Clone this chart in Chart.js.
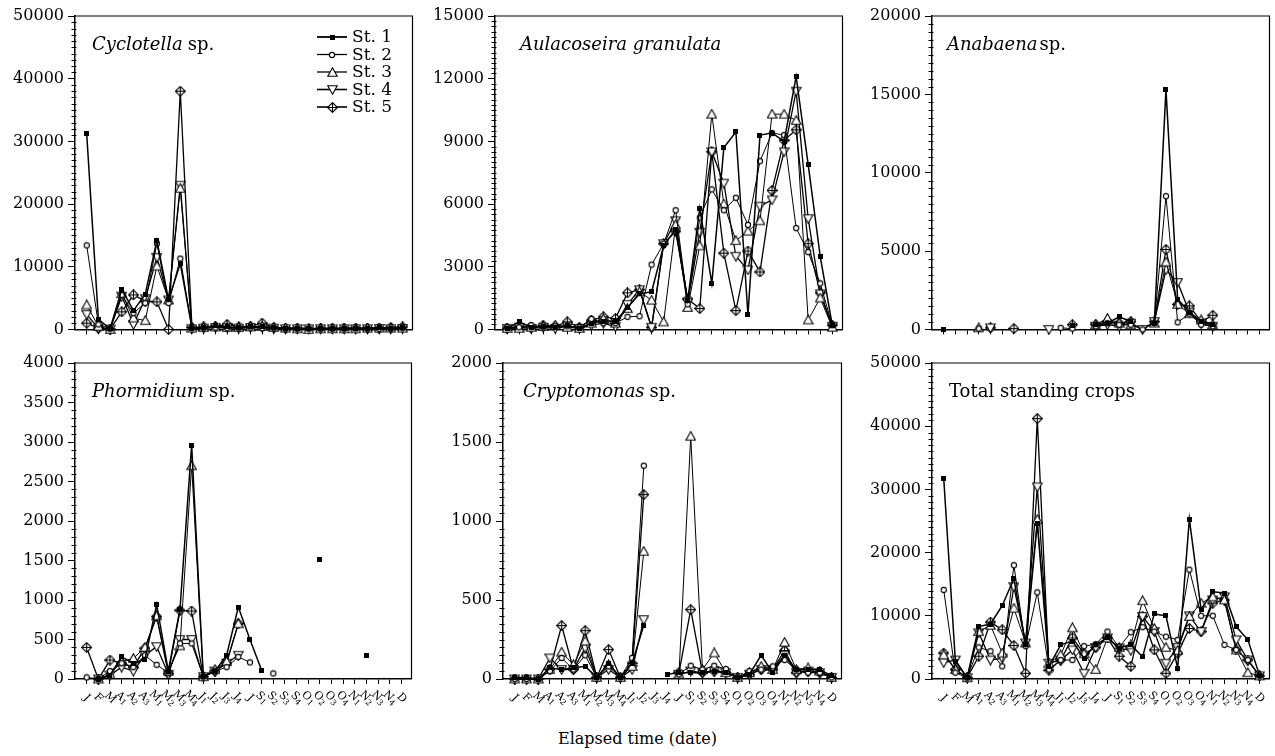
<!DOCTYPE html>
<html><head><meta charset="utf-8">
<script src="https://cdn.jsdelivr.net/npm/chart.js@4.4.1/dist/chart.umd.min.js"></script>
<style>
html,body{margin:0;padding:0;background:#fff;}
body{width:1275px;height:756px;position:relative;overflow:hidden;}
canvas{position:absolute;}
#xt{position:absolute;left:0;width:1275px;top:729px;line-height:20px;text-align:center;font:16px "DejaVu Serif";color:#000;}
</style></head><body>
<div id="xt">Elapsed time (date)</div>
<script>
const dateLabels = ['J','F','M','A1','A2','A3','M1','M2','M3','M4','J1','J2','J3','J4','J','S1','S2','S3','S4','O1','O2','O3','O4','N1','N2','N3','N4','D'];
const stationNames = ['St. 1','St. 2','St. 3','St. 4','St. 5'];

// Cyclotella sp.
const cycSt1 = [31200,1600,100,6400,3000,5600,14200,4700,10500,200,300,600,400,300,400,400,300,200,200,100,100,100,150,200,200,300,200,300];
const cycSt2 = [13400,800,100,5500,2600,4200,13700,4200,11300,200,200,300,200,200,300,200,200,100,100,100,100,100,100,150,100,100,100,200];
const cycSt3 = [3900,500,0,5700,1800,1400,10100,4700,22500,200,300,400,300,300,400,500,300,200,100,0,100,100,100,100,200,200,200,200];
const cycSt4 = [2400,200,50,5300,800,4900,11500,4700,23000,100,200,300,300,200,300,300,200,100,100,100,100,100,100,100,100,150,100,150];
const cycSt5 = [1000,200,50,2800,5500,4500,4400,0,38000,300,400,500,800,400,500,1000,300,200,200,100,200,200,200,200,200,200,300,400];

// Aulacoseira granulata
const aulSt1 = [50,360,100,150,100,200,50,300,400,400,1040,1700,1800,4000,4800,1400,5800,2200,8700,9450,700,9300,9400,9000,12100,7900,3500,200];
const aulSt2 = [100,100,200,100,150,150,100,500,300,300,600,630,3100,4100,5700,1200,5350,6700,5700,6300,5000,8050,9400,9300,4850,3700,2200,200];
const aulSt3 = [50,50,100,150,200,100,50,300,500,300,1000,1800,1400,360,5000,1050,4000,10300,6000,4250,4700,5200,10300,10300,10000,450,1500,100];
const aulSt4 = [50,100,50,100,50,150,50,200,300,130,1200,1900,100,4100,5200,1300,4650,8500,7000,3500,2850,5900,6200,8500,11400,5300,1700,150];
const aulSt5 = [50,150,100,200,150,360,100,440,600,520,1750,1900,100,4100,4700,1450,1000,8500,3650,900,3750,2750,6650,9050,9550,4100,1750,200];

// Anabaena sp.
const anaSt1 = [0,null,null,null,null,null,null,null,null,null,null,250,null,300,400,800,500,null,400,15300,1900,1100,500,300,null,null,null,null];
const anaSt2 = [null,null,null,50,null,null,null,null,null,null,100,50,null,200,400,300,300,0,400,8500,450,1000,300,200,null,null,null,null];
const anaSt3 = [null,null,null,100,null,null,null,null,null,null,null,null,null,300,700,400,300,null,400,4300,1600,1000,600,300,null,null,null,null];
const anaSt4 = [null,null,null,null,100,null,null,null,null,0,null,null,null,200,300,200,400,0,500,3800,3000,1100,400,200,null,null,null,null];
const anaSt5 = [null,null,null,null,100,null,50,null,null,null,null,300,null,300,500,400,500,null,500,5100,1600,1500,500,900,null,null,null,null];

// Phormidium sp.
const phoSt1 = [null,0,50,280,200,250,940,100,880,2960,30,100,300,910,500,110,null,null,null,null,1510,null,null,null,300,null,null,null];
const phoSt2 = [20,0,100,200,150,300,180,80,450,450,30,100,150,280,210,null,70,null,null,null,null,null,null,null,null,null,null,null];
const phoSt3 = [null,0,60,220,260,400,800,100,420,2700,30,120,220,700,null,null,null,null,null,null,null,null,null,null,null,null,null,null];
const phoSt4 = [null,0,50,150,100,300,410,60,500,500,30,100,200,300,null,null,null,null,null,null,null,null,null,null,null,null,null,null];
const phoSt5 = [400,0,240,200,150,390,790,70,870,860,30,100,200,700,null,null,null,null,null,null,null,null,null,null,null,null,null,null];

// Cryptomonas sp.
const crySt1 = [10,10,0,70,60,70,80,10,100,10,100,340,null,30,40,40,40,50,40,10,30,150,40,150,60,60,60,20];
const crySt2 = [0,0,0,50,133,60,150,10,80,10,133,1350,null,null,30,84,60,84,63,10,50,60,80,120,60,40,40,10];
const crySt3 = [0,0,0,60,170,90,240,10,90,10,80,808,null,null,30,1536,60,165,40,10,40,80,60,232,60,70,50,10];
const crySt4 = [0,0,0,133,60,60,196,10,60,10,60,376,null,null,30,50,40,50,40,10,30,60,60,150,40,50,40,10];
const crySt5 = [0,0,0,60,338,60,306,10,186,10,100,1167,null,null,40,439,40,50,40,10,30,60,60,180,40,50,40,10];

// Total standing crops
const totSt1 = [31800,2800,200,8300,8700,11600,15900,5500,24600,2000,5400,6000,3300,5500,6500,4900,5400,3500,10300,10000,1700,25300,11000,13800,13600,8300,6200,600];
const totSt2 = [14100,1000,200,5000,4400,2000,18000,5200,13700,1500,3000,3000,5200,5500,7500,5000,7400,8200,7500,6700,6200,17300,10000,10000,5400,4600,3000,500];
const totSt3 = [3800,1500,200,7500,8500,4100,11200,5700,25200,2500,3800,8100,4000,1500,6500,5000,5400,12400,8000,5000,4500,9900,12000,13000,12500,4600,1000,500];
const totSt4 = [2600,3000,200,7300,3000,3300,14600,5700,30400,2500,3000,4600,900,5000,6500,4900,4500,9900,7500,2500,5000,10000,7500,12500,13000,6200,3000,500];
const totSt5 = [4100,1500,200,3600,9000,7800,5300,900,41200,1400,3000,6500,4000,5000,6500,3600,2000,9900,4600,900,4100,8000,7500,12000,12500,4600,3000,500];

const FONT = '"DejaVu Serif", "Liberation Serif", serif';

function mk(w,h,draw){const c=document.createElement('canvas');c.width=w;c.height=h;const g=c.getContext('2d');draw(g);return c;}
const markers = [
  mk(5,5,g=>{g.fillStyle='#000';g.fillRect(0,0,5,5);}),
  mk(8,8,g=>{g.fillStyle='#fff';g.strokeStyle='#000';g.lineWidth=1.1;g.beginPath();g.arc(4,4,2.6,0,Math.PI*2);g.fill();g.stroke();}),
  mk(11,11,g=>{g.fillStyle='#fff';g.strokeStyle='#000';g.lineWidth=1.1;g.beginPath();g.moveTo(5.5,0.8);g.lineTo(10.2,9.2);g.lineTo(0.8,9.2);g.closePath();g.fill();g.stroke();}),
  mk(11,11,g=>{g.fillStyle='#fff';g.strokeStyle='#000';g.lineWidth=1.1;g.beginPath();g.moveTo(5.5,10.2);g.lineTo(10.2,1.8);g.lineTo(0.8,1.8);g.closePath();g.fill();g.stroke();}),
  mk(11,11,g=>{g.fillStyle='#fff';g.strokeStyle='#000';g.lineWidth=1.1;g.beginPath();g.moveTo(5.5,0.6);g.lineTo(10.4,5.5);g.lineTo(5.5,10.4);g.lineTo(0.6,5.5);g.closePath();g.fill();g.stroke();g.beginPath();g.moveTo(5.5,1);g.lineTo(5.5,10);g.moveTo(1,5.5);g.lineTo(10,5.5);g.stroke();})
];
const lineWidths = [1.5,1,1,1.3,1.3];

const panels = [
  {title:[['Cyclotella',true,0],['sp.',false,5]], tx:17, series:[cycSt1,cycSt2,cycSt3,cycSt4,cycSt5], yMax:50000, yStep:10000, yMinor:1000, rect:[75,16,414,333], labels:false, legend:true},
  {title:[['Aulacoseira granulata',true,0]], tx:25, series:[aulSt1,aulSt2,aulSt3,aulSt4,aulSt5], yMax:15000, yStep:3000, yMinor:250, rect:[495,16,844,333], labels:false},
  {title:[['Anabaena',true,0],['sp.',false,2]], tx:15, series:[anaSt1,anaSt2,anaSt3,anaSt4,anaSt5], yMax:20000, yStep:5000, yMinor:500, rect:[932,16,1271,333], labels:false},
  {title:[['Phormidium',true,0],['sp.',false,5]], tx:17, series:[phoSt1,phoSt2,phoSt3,phoSt4,phoSt5], yMax:4000, yStep:500, yMinor:100, rect:[75,363,413,679], labels:true},
  {title:[['Cryptomonas',true,0],['sp.',false,5]], tx:20, series:[crySt1,crySt2,crySt3,crySt4,crySt5], yMax:2000, yStep:500, yMinor:50, rect:[503,363,843,679], labels:true},
  {title:[['Total standing crops',false,0]], tx:17, series:[totSt1,totSt2,totSt3,totSt4,totSt5], yMax:50000, yStep:10000, yMinor:1000, rect:[932,363,1271,679], labels:true}
];

const decor = {
  id:'decor',
  afterDraw(chart, args, o){
    const p = o.panel; const ctx = chart.ctx; const a = chart.chartArea;
    const ys = chart.scales.y, xs = chart.scales.x;
    ctx.save();
    // frame (top, right)
    ctx.strokeStyle='#000'; ctx.lineWidth=1.2;
    ctx.beginPath(); ctx.moveTo(a.left, a.top); ctx.lineTo(a.right, a.top); ctx.lineTo(a.right, a.bottom); ctx.stroke();
    // minor y ticks
    ctx.lineWidth=1;
    ctx.beginPath();
    for (let v=0; v<=p.yMax+1e-9; v+=p.yMinor){
      if (Math.abs(v/p.yStep-Math.round(v/p.yStep))<1e-6) continue;
      const y=Math.round(ys.getPixelForValue(v))+0.5;
      ctx.moveTo(a.left-3.5,y); ctx.lineTo(a.left+1.5,y);
    }
    ctx.stroke();
    // title
    let tx=a.left+p.tx; const ty=a.top+34;
    ctx.fillStyle='#000'; ctx.textBaseline='alphabetic'; ctx.textAlign='left';
    for (const [t,it,gap] of p.title){
      tx+=gap;
      ctx.font=(it?'italic ':'')+'18px '+FONT;
      ctx.fillText(t,tx,ty); tx+=ctx.measureText(t).width;
    }
    // x labels
    if (p.labels){
      for (let i=0;i<dateLabels.length;i++){
        const x=xs.getPixelForValue(i+1);
        const lab=dateLabels[i];
        const letter=lab[0], digit=lab.slice(1);
        ctx.save();
        ctx.translate(x, a.bottom+19);
        ctx.rotate(Math.PI/4);
        ctx.font='11px '+FONT;
        const w1=ctx.measureText(letter).width;
        ctx.font='8px '+FONT;
        const w2=digit?ctx.measureText(digit).width:0;
        const tot=w1+w2; let sx=-tot/2;
        ctx.textBaseline='middle';
        ctx.font='11px '+FONT; ctx.fillText(letter,sx,0);
        if (digit){ctx.font='8px '+FONT; ctx.fillText(digit,sx+w1,2.5);}
        ctx.restore();
      }
    }
    // legend
    if (p.legend){
      const lx0=a.left+242, lx1=a.left+272, mx=a.left+257, txx=a.left+277;
      for (let k=0;k<5;k++){
        const y=a.top+21+k*17.5;
        ctx.strokeStyle='#000'; ctx.lineWidth=lineWidths[k]+0.3;
        ctx.beginPath(); ctx.moveTo(lx0,y); ctx.lineTo(lx1,y); ctx.stroke();
        const m=markers[k]; ctx.drawImage(m, Math.round(mx-m.width/2), Math.round(y-m.height/2));
        ctx.font='17px '+FONT; ctx.textBaseline='middle'; ctx.fillStyle='#000';
        ctx.fillText(stationNames[k], txx, y+1);
      }
    }
    ctx.restore();
  }
};

const padTop=14, padRight=4, yW=75;
panels.forEach((p,idx)=>{
  const [l,t,r,b]=p.rect;
  const xH = p.labels?50:10;
  const c=document.createElement('canvas');
  const W=r-l+yW+padRight, H=b-t+padTop+xH;
  c.width=W; c.height=H;
  c.style.left=(l-yW)+'px'; c.style.top=(t-padTop)+'px';
  c.style.width=W+'px'; c.style.height=H+'px';
  document.body.appendChild(c);
  const yTicks=[]; for(let v=0;v<=p.yMax;v+=p.yStep) yTicks.push({value:v});
  new Chart(c,{
    type:'line',
    data:{datasets:p.series.map((arr,k)=>({
      label:stationNames[k],
      data:arr.map((v,i)=>({x:i+1,y:v})),
      borderColor:'#000', backgroundColor:'#000', borderWidth:lineWidths[k],
      pointStyle:markers[k], pointRadius:4, pointHoverRadius:4,
      tension:0, spanGaps:false, fill:false, clip:false
    }))},
    options:{
      responsive:false, animation:false, devicePixelRatio:1, events:[],
      layout:{padding:{top:padTop,right:padRight,left:0,bottom:0}},
      plugins:{legend:{display:false}, tooltip:{enabled:false}, decor:{panel:p}},
      scales:{
        x:{type:'linear', min:0, max:28.85, bounds:'data',
           ticks:{display:false, stepSize:1},
           afterBuildTicks:s=>{s.ticks=dateLabels.map((_,i)=>({value:i+1}));},
           afterFit:s=>{s.height=xH;},
           grid:{display:true, drawOnChartArea:false, drawTicks:true, tickLength:5, color:'#000', lineWidth:1},
           border:{display:true, color:'#000', width:1.5}},
        y:{type:'linear', min:0, max:p.yMax, bounds:'data',
           ticks:{stepSize:p.yStep, color:'#000', padding:4, font:{family:FONT, size:16}, callback:v=>String(v)},
           afterBuildTicks:s=>{s.ticks=yTicks.map(o=>({value:o.value}));},
           afterFit:s=>{s.width=yW;},
           grid:{display:true, drawOnChartArea:false, drawTicks:true, tickLength:7, color:'#000', lineWidth:1},
           border:{display:true, color:'#000', width:1.5}}
      }
    },
    plugins:[decor]
  });
});
</script>
</body></html>
